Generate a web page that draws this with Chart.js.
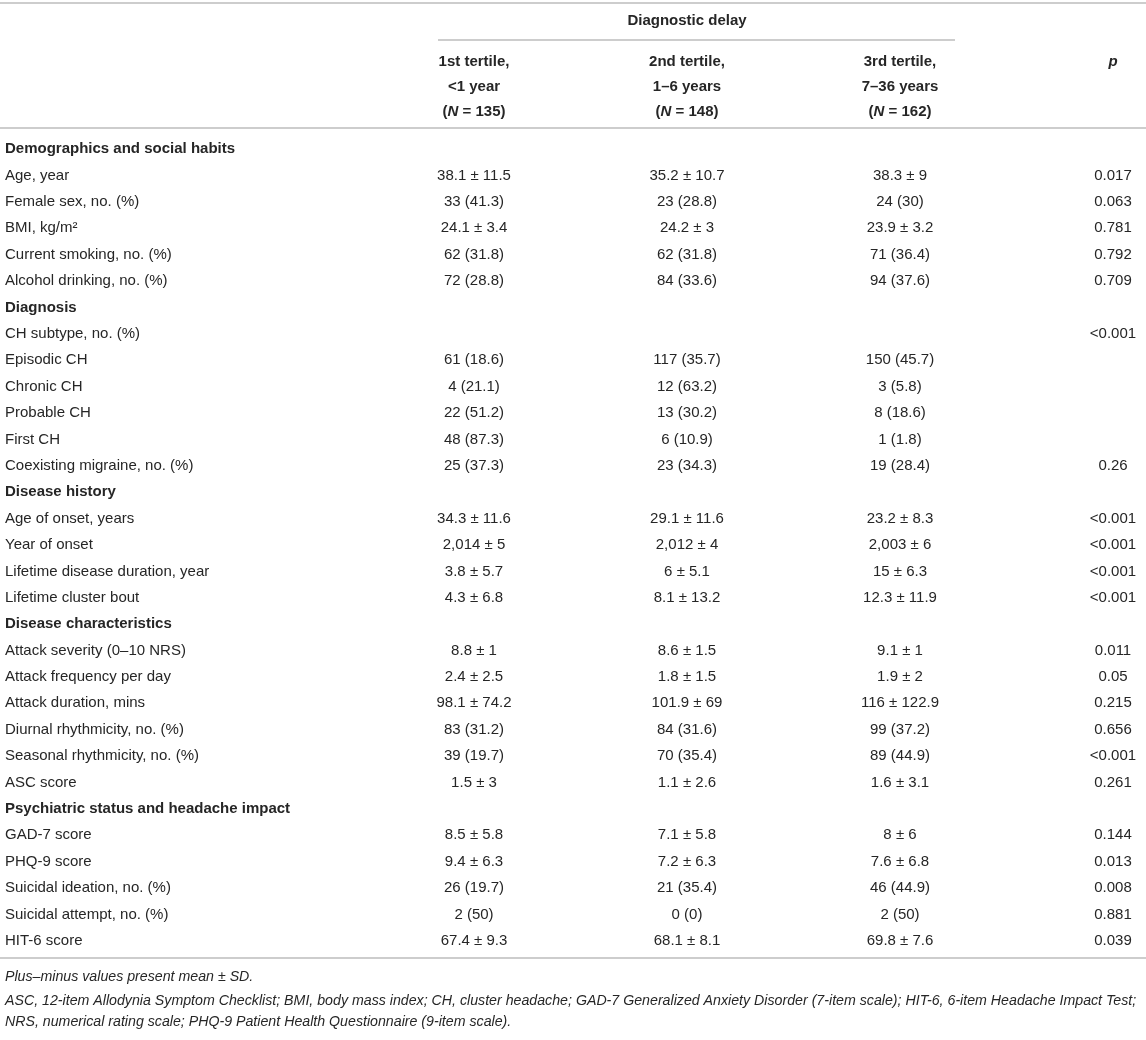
<!DOCTYPE html>
<html>
<head>
<meta charset="utf-8">
<script src="https://cdn.jsdelivr.net/npm/chart.js@4"></script>
<style>
  html, body { margin: 0; padding: 0; background: #fff; }
  #wrap { width: 1146px; height: 1040px; position: relative; }
</style>
</head>
<body>
<div id="wrap"><canvas id="tableChart"></canvas></div>
<script>
// Table rows (y categories), top to bottom
const rowLabels = [
    'Demographics and social habits',
    'Age, year',
    'Female sex, no. (%)',
    'BMI, kg/m²',
    'Current smoking, no. (%)',
    'Alcohol drinking, no. (%)',
    'Diagnosis',
    'CH subtype, no. (%)',
    'Episodic CH',
    'Chronic CH',
    'Probable CH',
    'First CH',
    'Coexisting migraine, no. (%)',
    'Disease history',
    'Age of onset, years',
    'Year of onset',
    'Lifetime disease duration, year',
    'Lifetime cluster bout',
    'Disease characteristics',
    'Attack severity (0–10 NRS)',
    'Attack frequency per day',
    'Attack duration, mins',
    'Diurnal rhythmicity, no. (%)',
    'Seasonal rhythmicity, no. (%)',
    'ASC score',
    'Psychiatric status and headache impact',
    'GAD-7 score',
    'PHQ-9 score',
    'Suicidal ideation, no. (%)',
    'Suicidal attempt, no. (%)',
    'HIT-6 score'
];
const sectionRows = [
    'Demographics and social habits',
    'Diagnosis',
    'Disease history',
    'Disease characteristics',
    'Psychiatric status and headache impact'
];

// Column headers
const groupTitle = 'Diagnostic delay';
const colHeadLine1 = ['1st tertile,', '2nd tertile,', '3rd tertile,'];
const colHeadLine2 = ['<1 year', '1–6 years', '7–36 years'];
const colN = [135, 148, 162];
const pHeader = 'p';

// Cell values, one per row ('' = empty cell)
const tertile1 = ['', '38.1 ± 11.5', '33 (41.3)', '24.1 ± 3.4', '62 (31.8)', '72 (28.8)',
    '', '', '61 (18.6)', '4 (21.1)', '22 (51.2)', '48 (87.3)', '25 (37.3)',
    '', '34.3 ± 11.6', '2,014 ± 5', '3.8 ± 5.7', '4.3 ± 6.8',
    '', '8.8 ± 1', '2.4 ± 2.5', '98.1 ± 74.2', '83 (31.2)', '39 (19.7)', '1.5 ± 3',
    '', '8.5 ± 5.8', '9.4 ± 6.3', '26 (19.7)', '2 (50)', '67.4 ± 9.3'];
const tertile2 = ['', '35.2 ± 10.7', '23 (28.8)', '24.2 ± 3', '62 (31.8)', '84 (33.6)',
    '', '', '117 (35.7)', '12 (63.2)', '13 (30.2)', '6 (10.9)', '23 (34.3)',
    '', '29.1 ± 11.6', '2,012 ± 4', '6 ± 5.1', '8.1 ± 13.2',
    '', '8.6 ± 1.5', '1.8 ± 1.5', '101.9 ± 69', '84 (31.6)', '70 (35.4)', '1.1 ± 2.6',
    '', '7.1 ± 5.8', '7.2 ± 6.3', '21 (35.4)', '0 (0)', '68.1 ± 8.1'];
const tertile3 = ['', '38.3 ± 9', '24 (30)', '23.9 ± 3.2', '71 (36.4)', '94 (37.6)',
    '', '', '150 (45.7)', '3 (5.8)', '8 (18.6)', '1 (1.8)', '19 (28.4)',
    '', '23.2 ± 8.3', '2,003 ± 6', '15 ± 6.3', '12.3 ± 11.9',
    '', '9.1 ± 1', '1.9 ± 2', '116 ± 122.9', '99 (37.2)', '89 (44.9)', '1.6 ± 3.1',
    '', '8 ± 6', '7.6 ± 6.8', '46 (44.9)', '2 (50)', '69.8 ± 7.6'];
const pValues = ['', '0.017', '0.063', '0.781', '0.792', '0.709',
    '', '<0.001', '', '', '', '', '0.26',
    '', '<0.001', '<0.001', '<0.001', '<0.001',
    '', '0.011', '0.05', '0.215', '0.656', '<0.001', '0.261',
    '', '0.144', '0.013', '0.008', '0.881', '0.039'];

const footnotes = [
    'Plus–minus values present mean ± SD.',
    'ASC, 12-item Allodynia Symptom Checklist; BMI, body mass index; CH, cluster headache; GAD-7 Generalized Anxiety Disorder (7-item scale); HIT-6, 6-item Headache Impact Test;',
    'NRS, numerical rating scale; PHQ-9 Patient Health Questionnaire (9-item scale).'
];

const FONT = '"Liberation Sans", Arial, Helvetica, sans-serif';
const TEXT = '#262626';
const RULE = '#bcbcbc';

// one invisible scatter dataset per column, cell text kept on each point
function columnData(values, col) {
    const pts = [];
    values.forEach((v, i) => {
        if (v !== '') pts.push({ x: col, y: rowLabels[i], t: v });
    });
    return pts;
}

const columns = [tertile1, tertile2, tertile3, pValues];

// draws the cell texts at the points placed by the scales
const cellText = {
    id: 'cellText',
    afterDatasetsDraw(chart) {
        const ctx = chart.ctx;
        ctx.save();
        ctx.fillStyle = TEXT;
        ctx.font = '15px ' + FONT;
        ctx.textAlign = 'center';
        ctx.textBaseline = 'middle';
        chart.data.datasets.forEach((ds, di) => {
            chart.getDatasetMeta(di).data.forEach((el, i) => {
                ctx.fillText(ds.data[i].t, el.x, el.y);
            });
        });
        ctx.restore();
    }
};

// rules, column headers and footnotes
const tableFrame = {
    id: 'tableFrame',
    afterDraw(chart) {
        const ctx = chart.ctx;
        const x = chart.scales.x;
        const area = chart.chartArea;
        const W = chart.width;
        const c0 = x.getPixelForValue(0), c1 = x.getPixelForValue(1), c2 = x.getPixelForValue(2), cp = x.getPixelForValue(3);

        ctx.save();
        ctx.strokeStyle = RULE;
        ctx.lineWidth = 1.5;
        const hline = (y, x0, x1) => {
            ctx.beginPath(); ctx.moveTo(x0, y); ctx.lineTo(x1, y); ctx.stroke();
        };
        hline(3, 0, W);
        hline(40, c0 - 36, c2 + 55);
        hline(128, 0, W);
        hline(area.bottom + 4, 0, W);

        ctx.fillStyle = TEXT;
        ctx.textBaseline = 'middle';
        ctx.textAlign = 'center';
        ctx.font = 'bold 15px ' + FONT;
        ctx.fillText(groupTitle, c1, 21);

        [c0, c1, c2].forEach((cx, i) => {
            ctx.font = 'bold 15px ' + FONT;
            ctx.textAlign = 'center';
            ctx.fillText(colHeadLine1[i], cx, 62);
            ctx.fillText(colHeadLine2[i], cx, 87);
            // "(N = 135)" with italic N
            const a = '(', b = 'N', c = ' = ' + colN[i] + ')';
            const wa = ctx.measureText(a).width, wc = ctx.measureText(c).width;
            ctx.font = 'italic bold 15px ' + FONT;
            const wb = ctx.measureText(b).width;
            let sx = cx - (wa + wb + wc) / 2;
            ctx.textAlign = 'left';
            ctx.font = 'bold 15px ' + FONT;
            ctx.fillText(a, sx, 112);
            ctx.font = 'italic bold 15px ' + FONT;
            ctx.fillText(b, sx + wa, 112);
            ctx.font = 'bold 15px ' + FONT;
            ctx.fillText(c, sx + wa + wb, 112);
        });
        ctx.textAlign = 'center';
        ctx.font = 'italic bold 15px ' + FONT;
        ctx.fillText(pHeader, cp, 62);

        ctx.textAlign = 'left';
        ctx.font = 'italic 14.2px ' + FONT;
        const fy = [area.bottom + 23, area.bottom + 47, area.bottom + 68];
        footnotes.forEach((f, i) => ctx.fillText(f, 5, fy[i]));
        ctx.restore();
    }
};

const chart = new Chart(document.getElementById('tableChart'), {
    type: 'scatter',
    data: {
        datasets: columns.map((vals, col) => ({
            data: columnData(vals, col),
            pointRadius: 0,
            pointHoverRadius: 0,
            showLine: false
        }))
    },
    options: {
        responsive: true,
        maintainAspectRatio: false,
        animation: false,
        events: [],
        layout: { padding: { left: 5, right: 33, top: 136, bottom: 86 } },
        plugins: {
            legend: { display: false },
            tooltip: { enabled: false }
        },
        scales: {
            x: {
                type: 'linear',
                min: 0,
                max: 3,
                display: false
            },
            y: {
                type: 'category',
                labels: rowLabels,
                offset: true,
                position: 'left',
                grid: { display: false, drawTicks: false },
                border: { display: false },
                afterFit: (scale) => { scale.width = 469; },
                ticks: {
                    autoSkip: false,
                    crossAlign: 'far',
                    padding: 0,
                    color: TEXT,
                    font: (c) => ({
                        family: FONT,
                        size: 15,
                        weight: sectionRows.includes(rowLabels[c.index]) ? 'bold' : 'normal'
                    })
                }
            }
        }
    },
    plugins: [cellText, tableFrame]
});
</script>
</body>
</html>
